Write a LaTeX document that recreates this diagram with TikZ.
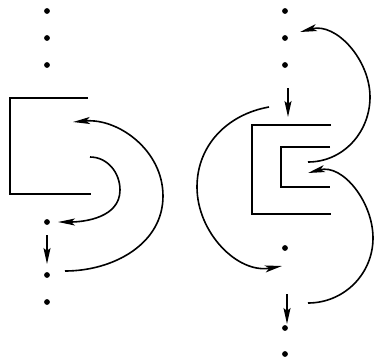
\documentclass[tikz,border=0pt]{standalone}
\usetikzlibrary{arrows.meta}
\begin{document}
\begin{tikzpicture}[x=1pt,y=-1pt,
  dotnode/.style={circle,fill=black,inner sep=0pt,minimum size=5.8pt},
  line/.style={line width=1.8pt},
  arr/.style={line width=1.6pt,-{Stealth[length=17pt,width=7pt,inset=4pt]}},
  darr/.style={line width=1.6pt,-{Stealth[length=16pt,width=7pt,inset=3pt]}}]
\useasboundingbox (0,0) rectangle (375,360);
% left column dots
\node[dotnode] (l1) at (47,11) {};
\node[dotnode] (l2) at (47,38) {};
\node[dotnode] (l3) at (47,65) {};
\node[dotnode] (l4) at (47,222) {};
\node[dotnode] (l5) at (47,275) {};
\node[dotnode] (l6) at (47,302) {};
% left bracket
\draw[line] (88,98) -- (10,98) -- (10,194) -- (91,194);
% left arcs
\coordinate (a1s) at (65,271);
\coordinate (a1m) at (163,196);
\coordinate (a1e) at (73,122);
\draw[arr] (a1s) to[out=0,in=-90] (a1m) to[out=90,in=5] (a1e);
\coordinate (a2s) at (90,157);
\coordinate (a2m) at (120,190);
\coordinate (a2e) at (58,222);
\draw[arr] (a2s) to[out=0,in=90] (a2m) to[out=-90,in=0] (a2e);
\coordinate (v1s) at (47,235);
\coordinate (v1e) at (47,264);
\draw[darr] (v1s) -- (v1e);
% right column dots
\node[dotnode] (r1) at (285,11) {};
\node[dotnode] (r2) at (285,38) {};
\node[dotnode] (r3) at (285,65) {};
\node[dotnode] (r4) at (285,248) {};
\node[dotnode] (r5) at (285,328) {};
\node[dotnode] (r6) at (285,354) {};
% right brackets
\draw[line] (331,125) -- (252,125) -- (252,214) -- (331,214);
\draw[line] (330,147) -- (281,147) -- (281,187) -- (330,187);
% right arcs
\coordinate (b1s) at (308,162);
\coordinate (b1m) at (370,97);
\coordinate (b1e) at (300,32);
\draw[arr] (b1s) to[out=0,in=-90] (b1m) to[out=90,in=15] (b1e);
\coordinate (b2s) at (269,107);
\coordinate (b2m) at (197,187);
\coordinate (b2e) at (282,266);
\draw[arr] (b2s) to[out=190,in=90] (b2m) to[out=-90,in=190] (b2e);
\coordinate (b3s) at (308,303);
\coordinate (b3m) at (373,238);
\coordinate (b3e) at (308,173);
\draw[arr] (b3s) to[out=0,in=-90] (b3m) to[out=90,in=15] (b3e);
\coordinate (v2s) at (288,88);
\coordinate (v2e) at (288,117);
\draw[darr] (v2s) -- (v2e);
\coordinate (v3s) at (287,294);
\coordinate (v3e) at (287,324);
\draw[darr] (v3s) -- (v3e);
\end{tikzpicture}
\end{document}
